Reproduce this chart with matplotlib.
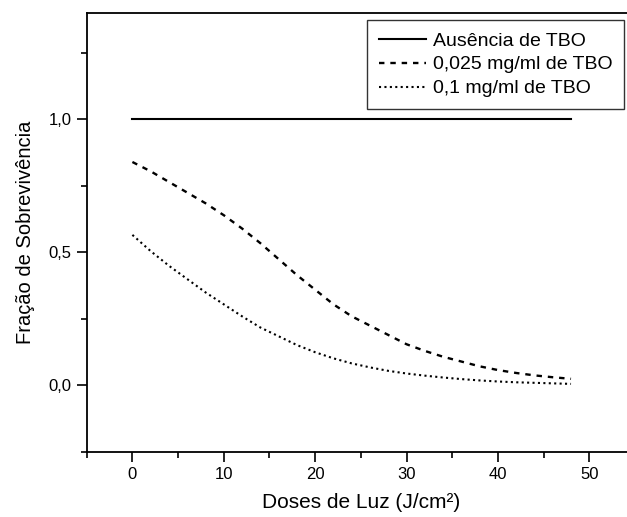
import matplotlib.pyplot as plt
from matplotlib.ticker import MultipleLocator, FuncFormatter

plt.rcParams['font.family'] = ['Liberation Sans', 'DejaVu Sans']

# Dose (J/cm2) and survival fraction
dose_none = [0, 48]
surv_none = [1.0, 1.0]

dose_025 = [0, 2, 4, 6, 8, 10, 12, 14, 16, 18, 20, 22, 24, 26, 28, 30, 32, 34, 36, 38, 40, 42, 44, 46, 48]
surv_025 = [0.84, 0.805, 0.765, 0.725, 0.685, 0.64, 0.59, 0.535, 0.475, 0.415, 0.36, 0.305, 0.26, 0.225,
            0.19, 0.155, 0.13, 0.108, 0.09, 0.072, 0.058, 0.047, 0.038, 0.031, 0.025]

dose_01 = [0, 2, 4, 6, 8, 10, 12, 14, 16, 18, 20, 22, 24, 26, 28, 30, 32, 34, 36, 38, 40, 42, 44, 46, 48]
surv_01 = [0.566, 0.505, 0.45, 0.4, 0.35, 0.305, 0.26, 0.218, 0.185, 0.152, 0.125, 0.102, 0.083, 0.068,
           0.055, 0.045, 0.037, 0.03, 0.024, 0.019, 0.015, 0.012, 0.01, 0.008, 0.006]

labels = ['Ausência de TBO', '0,025 mg/ml de TBO', '0,1 mg/ml de TBO']

fig = plt.figure(figsize=(6.27, 5.17), dpi=100)
ax = fig.add_axes([86.7 / 627, 1 - 452 / 517, (635 - 86.7) / 627, (452 - 13) / 517])

ax.plot(dose_none, surv_none, color='black', lw=1.5, label=labels[0])
ax.plot(dose_025, surv_025, color='black', lw=1.7, dashes=(2.3, 2.5), label=labels[1])
ax.plot(dose_01, surv_01, color='black', lw=1.5, dashes=(1.0, 1.6), label=labels[2])

ax.set_xlim(-5, 55)
ax.set_ylim(-0.25, 1.4)
ax.xaxis.set_major_locator(MultipleLocator(10))
ax.xaxis.set_minor_locator(MultipleLocator(5))
ax.yaxis.set_major_locator(MultipleLocator(0.5))
ax.yaxis.set_minor_locator(MultipleLocator(0.25))
ax.yaxis.set_major_formatter(FuncFormatter(lambda v, p: ('%.1f' % v).replace('.', ',')))
ax.tick_params(which='major', direction='out', length=7, width=1.2, labelsize=12, pad=4)
ax.tick_params(which='minor', direction='out', length=4, width=1.2)
for s in ax.spines.values():
    s.set_linewidth(1.3)

ax.set_xlabel('Doses de Luz (J/cm²)', fontsize=15, labelpad=8)
ax.set_ylabel('Fração de Sobrevivência', fontsize=14.5, labelpad=10)

leg = ax.legend(loc='upper left', bbox_to_anchor=(367 / 627, 1 - 20 / 517),
                bbox_transform=fig.transFigure, borderaxespad=0, fontsize=14,
                frameon=True, fancybox=False, edgecolor='black', handlelength=2.4,
                handletextpad=0.35, labelspacing=0.32, borderpad=0.62)
leg.get_frame().set_linewidth(1.0)

fig.savefig('out.png', dpi=100)
